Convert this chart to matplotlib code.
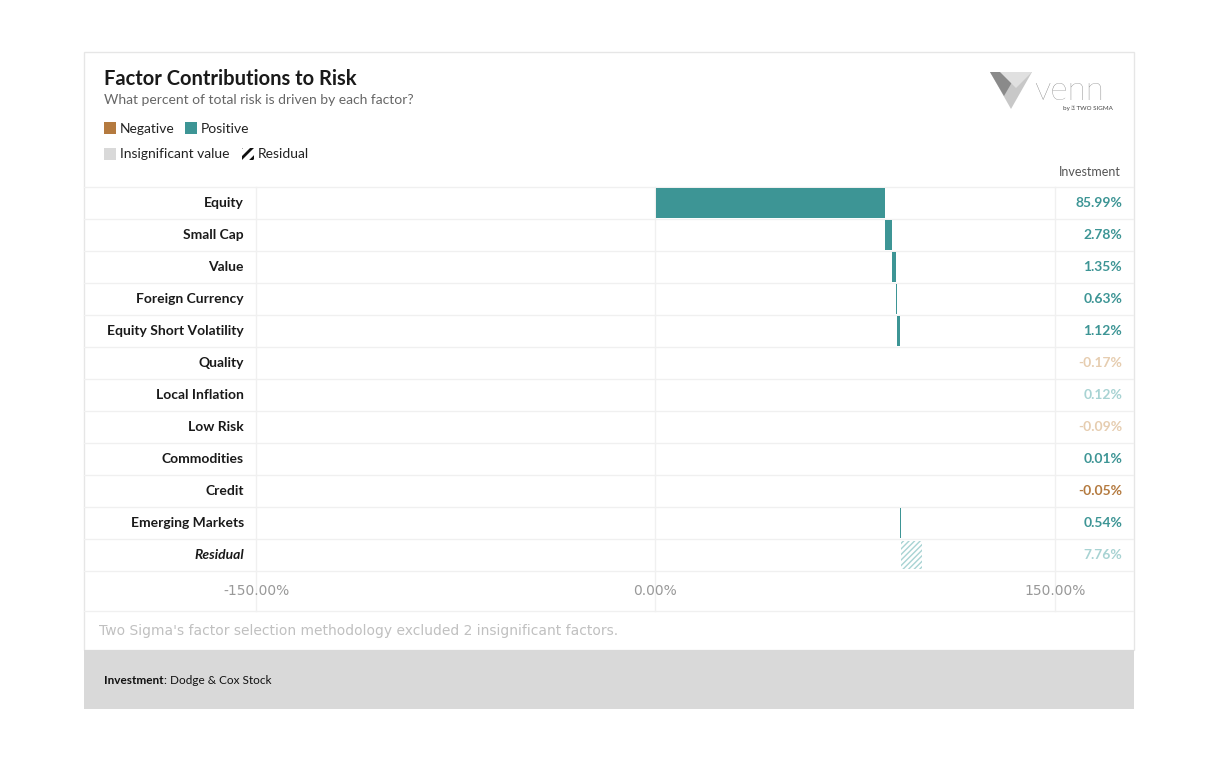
import matplotlib
matplotlib.use("Agg")
import matplotlib.pyplot as plt
from matplotlib.patches import Rectangle, Polygon
import numpy as np

plt.rcParams["font.family"] = "Lato"
plt.rcParams["hatch.linewidth"] = 1.0

factors = ["Equity", "Small Cap", "Value", "Foreign Currency", "Equity Short Volatility",
           "Quality", "Local Inflation", "Low Risk", "Commodities", "Credit",
           "Emerging Markets", "Residual"]
values = [85.99, 2.78, 1.35, 0.63, 1.12, -0.17, 0.12, -0.09, 0.01, -0.05, 0.54, 7.76]
significant = [True, True, True, True, True, False, False, False, True, True, True, False]
tick_values = [-150, 0, 150]
tick_labels = ["-150.00%", "0.00%", "150.00%"]

TEAL = "#3d9595"; BROWN = "#b47a3f"
TEAL_L = "#a8d3d3"; BROWN_L = "#e6cdb0"

W, H = 1218, 761
fig = plt.figure(figsize=(W/100, H/100), dpi=100)
bg = fig.add_axes([0, 0, 1, 1]); bg.set_xlim(0, W); bg.set_ylim(H, 0); bg.axis("off")

# card
bg.add_patch(Rectangle((84, 52), 1050, 598, fc="white", ec="#e6e6e6", lw=1))
bg.add_patch(Rectangle((84, 650), 1050, 59, fc="#d9d9d9", ec="none"))
bg.text(104, 79, "Factor Contributions to Risk", fontsize=14.5, fontweight="bold", color="#1a1a1a", va="center")
bg.text(104, 100, "What percent of total risk is driven by each factor?", fontsize=10, color="#666666", va="center")
# legend
bg.add_patch(Rectangle((104, 122), 12, 12, fc=BROWN, ec="none"))
bg.text(120, 129, "Negative", fontsize=10, va="center", color="#222")
bg.add_patch(Rectangle((185, 122), 12, 12, fc=TEAL, ec="none"))
bg.text(201, 129, "Positive", fontsize=10, va="center", color="#222")
bg.add_patch(Rectangle((104, 148), 12, 12, fc="#d9d9d9", ec="none"))
bg.text(120, 154, "Insignificant value", fontsize=10, va="center", color="#222")
plt.rcParams["hatch.linewidth"] = 2.0
bg.add_patch(Rectangle((242, 148), 12, 12, fc="white", ec="#111", hatch="///", lw=0))
bg.text(258, 154, "Residual", fontsize=10, va="center", color="#222")
# logo
bg.add_patch(Polygon([[990, 72], [1032, 72], [1011, 109]], fc="#c8c8c8", ec="none"))
bg.add_patch(Polygon([[990, 72], [1018, 72], [1004, 96]], fc="#8a8a8a", ec="none"))
bg.add_patch(Polygon([[1000, 72], [1032, 72], [1016, 88]], fc="#e0e0e0", ec="none"))
bg.text(1034, 91, "venn", fontsize=24, color="#777", va="center", fontweight="light")
bg.text(1113, 108, "by ◈ TWO SIGMA", fontsize=4.5, color="#444", va="center", ha="right")
bg.text(1121, 172, "Investment", fontsize=9, color="#555", va="center", ha="right")

# row grid
top, rh = 187, 32
for i in range(len(factors) + 1):
    bg.plot([84, 1133], [top + i*rh]*2, color="#f0f0f0", lw=1)
bg.plot([84, 1133], [611, 611], color="#f0f0f0", lw=1)
for x in [256, 655, 1055]:
    bg.plot([x, x], [top, 611], color="#f0f0f0", lw=1)

for i, (f, v, s) in enumerate(zip(factors, values, significant)):
    y = top + i*rh + rh/2
    bg.text(244, y, f, fontsize=10, fontweight="bold", ha="right", va="center", color="#1a1a1a",
            style="italic" if f == "Residual" else "normal")
    if s:
        c = TEAL if v >= 0 else BROWN
    else:
        c = TEAL_L if v >= 0 else BROWN_L
    bg.text(1122, y, f"{v:.2f}%", fontsize=10, fontweight="bold", ha="right", va="center", color=c)

bg.text(99, 631, "Two Sigma's factor selection methodology excluded 2 insignificant factors.",
        fontsize=10, color="#c0c0c0", va="center", family="DejaVu Sans")
bg.text(104, 680, "Investment", fontsize=8.5, fontweight="bold", va="center", color="#111")
bg.text(164, 680, ": Dodge & Cox Stock", fontsize=8.5, va="center", color="#111")

# data axes
plt.rcParams["hatch.linewidth"] = 1.0
ax = fig.add_axes([256/W, 1 - 571/H, (1055-256)/W, (571-187)/H])
ax.set_xlim(-150, 150); ax.set_ylim(len(factors) - 0.5, -0.5)
ax.patch.set_alpha(0); ax.axis("off")
cum = 0.0
for i, (v, s) in enumerate(zip(values, significant)):
    if factors[i] == "Residual":
        ax.barh(i, v, left=cum, height=0.9, color="white", edgecolor=TEAL_L, hatch="//////", lw=0)
    else:
        c = (TEAL if v >= 0 else BROWN) if s else (TEAL_L if v >= 0 else BROWN_L)
        ax.barh(i, v, left=cum, height=0.92, color=c, lw=0)
    cum += v
for tv, tl in zip(tick_values, tick_labels):
    bg.text(256 + (tv + 150) / 300 * 799, 591, tl, fontsize=10, color="#999", ha="center", va="center",
            family="DejaVu Sans")

fig.savefig("out.png", dpi=100)
